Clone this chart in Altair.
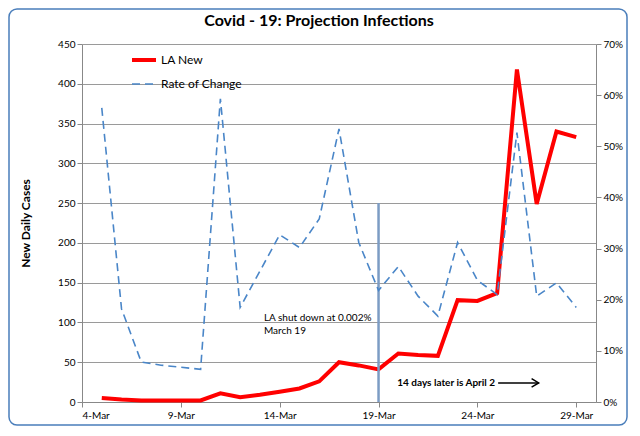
import altair as alt
import pandas as pd

# ---- data ----
days = list(range(5, 30))  # March 5 .. March 29
la_new = [5, 3, 2, 2, 2, 2, 11, 6, 9, 13, 17, 26, 50, 46, 41, 61, 59, 58,
          128, 127, 137, 418, 249, 340, 333]
rate_of_change = [0.575, 0.182, 0.078, 0.072, 0.068, 0.064, 0.593, 0.185, 0.256,
                  0.327, 0.302, 0.358, 0.534, 0.312, 0.218, 0.265, 0.207, 0.168,
                  0.312, 0.238, 0.210, 0.527, 0.207, 0.233, 0.185]
x_ticks = [4, 9, 14, 19, 24, 29]
left_ticks = [0, 50, 100, 150, 200, 250, 300, 350, 400, 450]
right_ticks = [0, 0.1, 0.2, 0.3, 0.4, 0.5, 0.6, 0.7]

shutdown_day = [19]
shutdown_top = [250]
ann_days = [13.2, 13.2]
ann_vals = [105, 89]
ann_texts = ["LA shut down at 0.002%", "March 19"]
note_day = [19.95]
note_val = [24]
note_text = ["14 days later is April 2"]
arrow_from = [25.05]
arrow_to = [27.1]

FONT = "Lato"
W, H = 514, 358
PAD = {"left": 74, "top": 36, "right": 32, "bottom": 24}

df = pd.DataFrame({"day": days, "la_new": la_new, "rate": rate_of_change})
one = pd.DataFrame({"a": [0]})

xscale = alt.Scale(domain=[4, 30], nice=False, zero=False)
yL = alt.Scale(domain=[0, 450], nice=False)
yR = alt.Scale(domain=[0, 0.7], nice=False)

xaxis = alt.Axis(values=x_ticks, labelExpr="datum.value + '-Mar'", grid=False, title=None,
                 domainColor="#888888", tickColor="#888888", tickSize=5,
                 labelFont=FONT, labelFontSize=10, labelColor="#000000", labelPadding=3)
yaxisL = alt.Axis(values=left_ticks, title="New Daily Cases", titleFont=FONT, titleFontSize=12,
                  titleFontWeight="bold", titleColor="#000000", titlePadding=25,
                  grid=True, gridColor="#9a9a9a", gridWidth=1,
                  domainColor="#888888", tickColor="#888888", tickSize=5,
                  labelFont=FONT, labelFontSize=10, labelColor="#000000")
yaxisR = alt.Axis(orient="right", values=right_ticks, format=".0%", grid=False, title=None,
                  domainColor="#888888", tickColor="#888888", tickSize=5,
                  labelFont=FONT, labelFontSize=10, labelColor="#000000")


def X(field):
    return alt.X(field, type="quantitative", scale=xscale, axis=xaxis)


def YL(field):
    return alt.Y(field, type="quantitative", scale=yL, axis=yaxisL)


red = alt.Chart(df).mark_line(color="#ff0000", strokeWidth=4).encode(
    x=X("day"), y=YL("la_new"))

rule_df = pd.DataFrame({"day": shutdown_day, "y0": [0], "y1": shutdown_top})
vrule = alt.Chart(rule_df).mark_rule(color="#7c9cc4", strokeWidth=2.5).encode(
    x=X("day"), y=YL("y0"), y2="y1:Q")

ann_df = pd.DataFrame({"day": ann_days, "v": ann_vals, "t": ann_texts})
ann = alt.Chart(ann_df).mark_text(align="left", baseline="middle", font=FONT, fontSize=10,
                                  color="#000000").encode(
    x=X("day"), y=YL("v"), text="t:N")

note_df = pd.DataFrame({"day": note_day, "v": note_val, "t": note_text})
note = alt.Chart(note_df).mark_text(align="left", baseline="middle", font=FONT, fontSize=10,
                                    fontWeight="bold", color="#000000").encode(
    x=X("day"), y=YL("v"), text="t:N")

arrow_df = pd.DataFrame({"d0": arrow_from, "d1": arrow_to, "v": note_val})
arrow_line = alt.Chart(arrow_df).mark_rule(color="#000000", strokeWidth=1.5).encode(
    x=X("d0"), x2="d1:Q", y=YL("v"))
arrow_head = alt.Chart(arrow_df).mark_point(shape="M-1,-0.6L0,0L-1,0.6", size=200, filled=False,
                                            color="#000000", strokeWidth=1.5, opacity=1).encode(
    x=X("d1"), y=YL("v"))

left = alt.layer(red, vrule, ann, note, arrow_line, arrow_head)

blue = alt.Chart(df).mark_line(color="#4a86c8", strokeWidth=1.6, strokeDash=[8, 5]).encode(
    x=X("day"),
    y=alt.Y("rate:Q", scale=yR, axis=yaxisR))

# legend (drawn inside the plot, top-left)
leg_red = alt.Chart(one).mark_rule(color="#ff0000", strokeWidth=4).encode(
    x=alt.value(50), x2=alt.value(74), y=alt.value(16))
leg_red_t = alt.Chart(one).mark_text(align="left", baseline="middle", font=FONT, fontSize=12,
                                     color="#000000").encode(
    x=alt.value(79), y=alt.value(16), text=alt.value("LA New"))
leg_blue = alt.Chart(one).mark_rule(color="#4a86c8", strokeWidth=1.6, strokeDash=[8, 5]).encode(
    x=alt.value(50), x2=alt.value(74), y=alt.value(40))
leg_blue_t = alt.Chart(one).mark_text(align="left", baseline="middle", font=FONT, fontSize=12,
                                      color="#000000").encode(
    x=alt.value(79), y=alt.value(40), text=alt.value("Rate of Change"))

border = alt.Chart(one).mark_rect(fillOpacity=0, stroke="#4a7ebb", strokeWidth=1.5,
                                  cornerRadius=8).encode(
    x=alt.value(-73), x2=alt.value(W + 31), y=alt.value(-35), y2=alt.value(H + 23))

chart = alt.layer(left, blue, leg_red, leg_red_t, leg_blue, leg_blue_t, border).resolve_scale(
    y="independent"
).properties(
    width=W, height=H, padding=PAD,
    autosize=alt.AutoSizeParams(type="none"),
    background="#ffffff",
    title=alt.Title("Covid - 19: Projection Infections", font=FONT, fontSize=16,
                    fontWeight="bold", color="#000000", anchor="middle", dx=-20, offset=-21),
).configure_view(strokeWidth=0)

chart.save("out.html", embed_options={"renderer": "svg", "actions": False})
